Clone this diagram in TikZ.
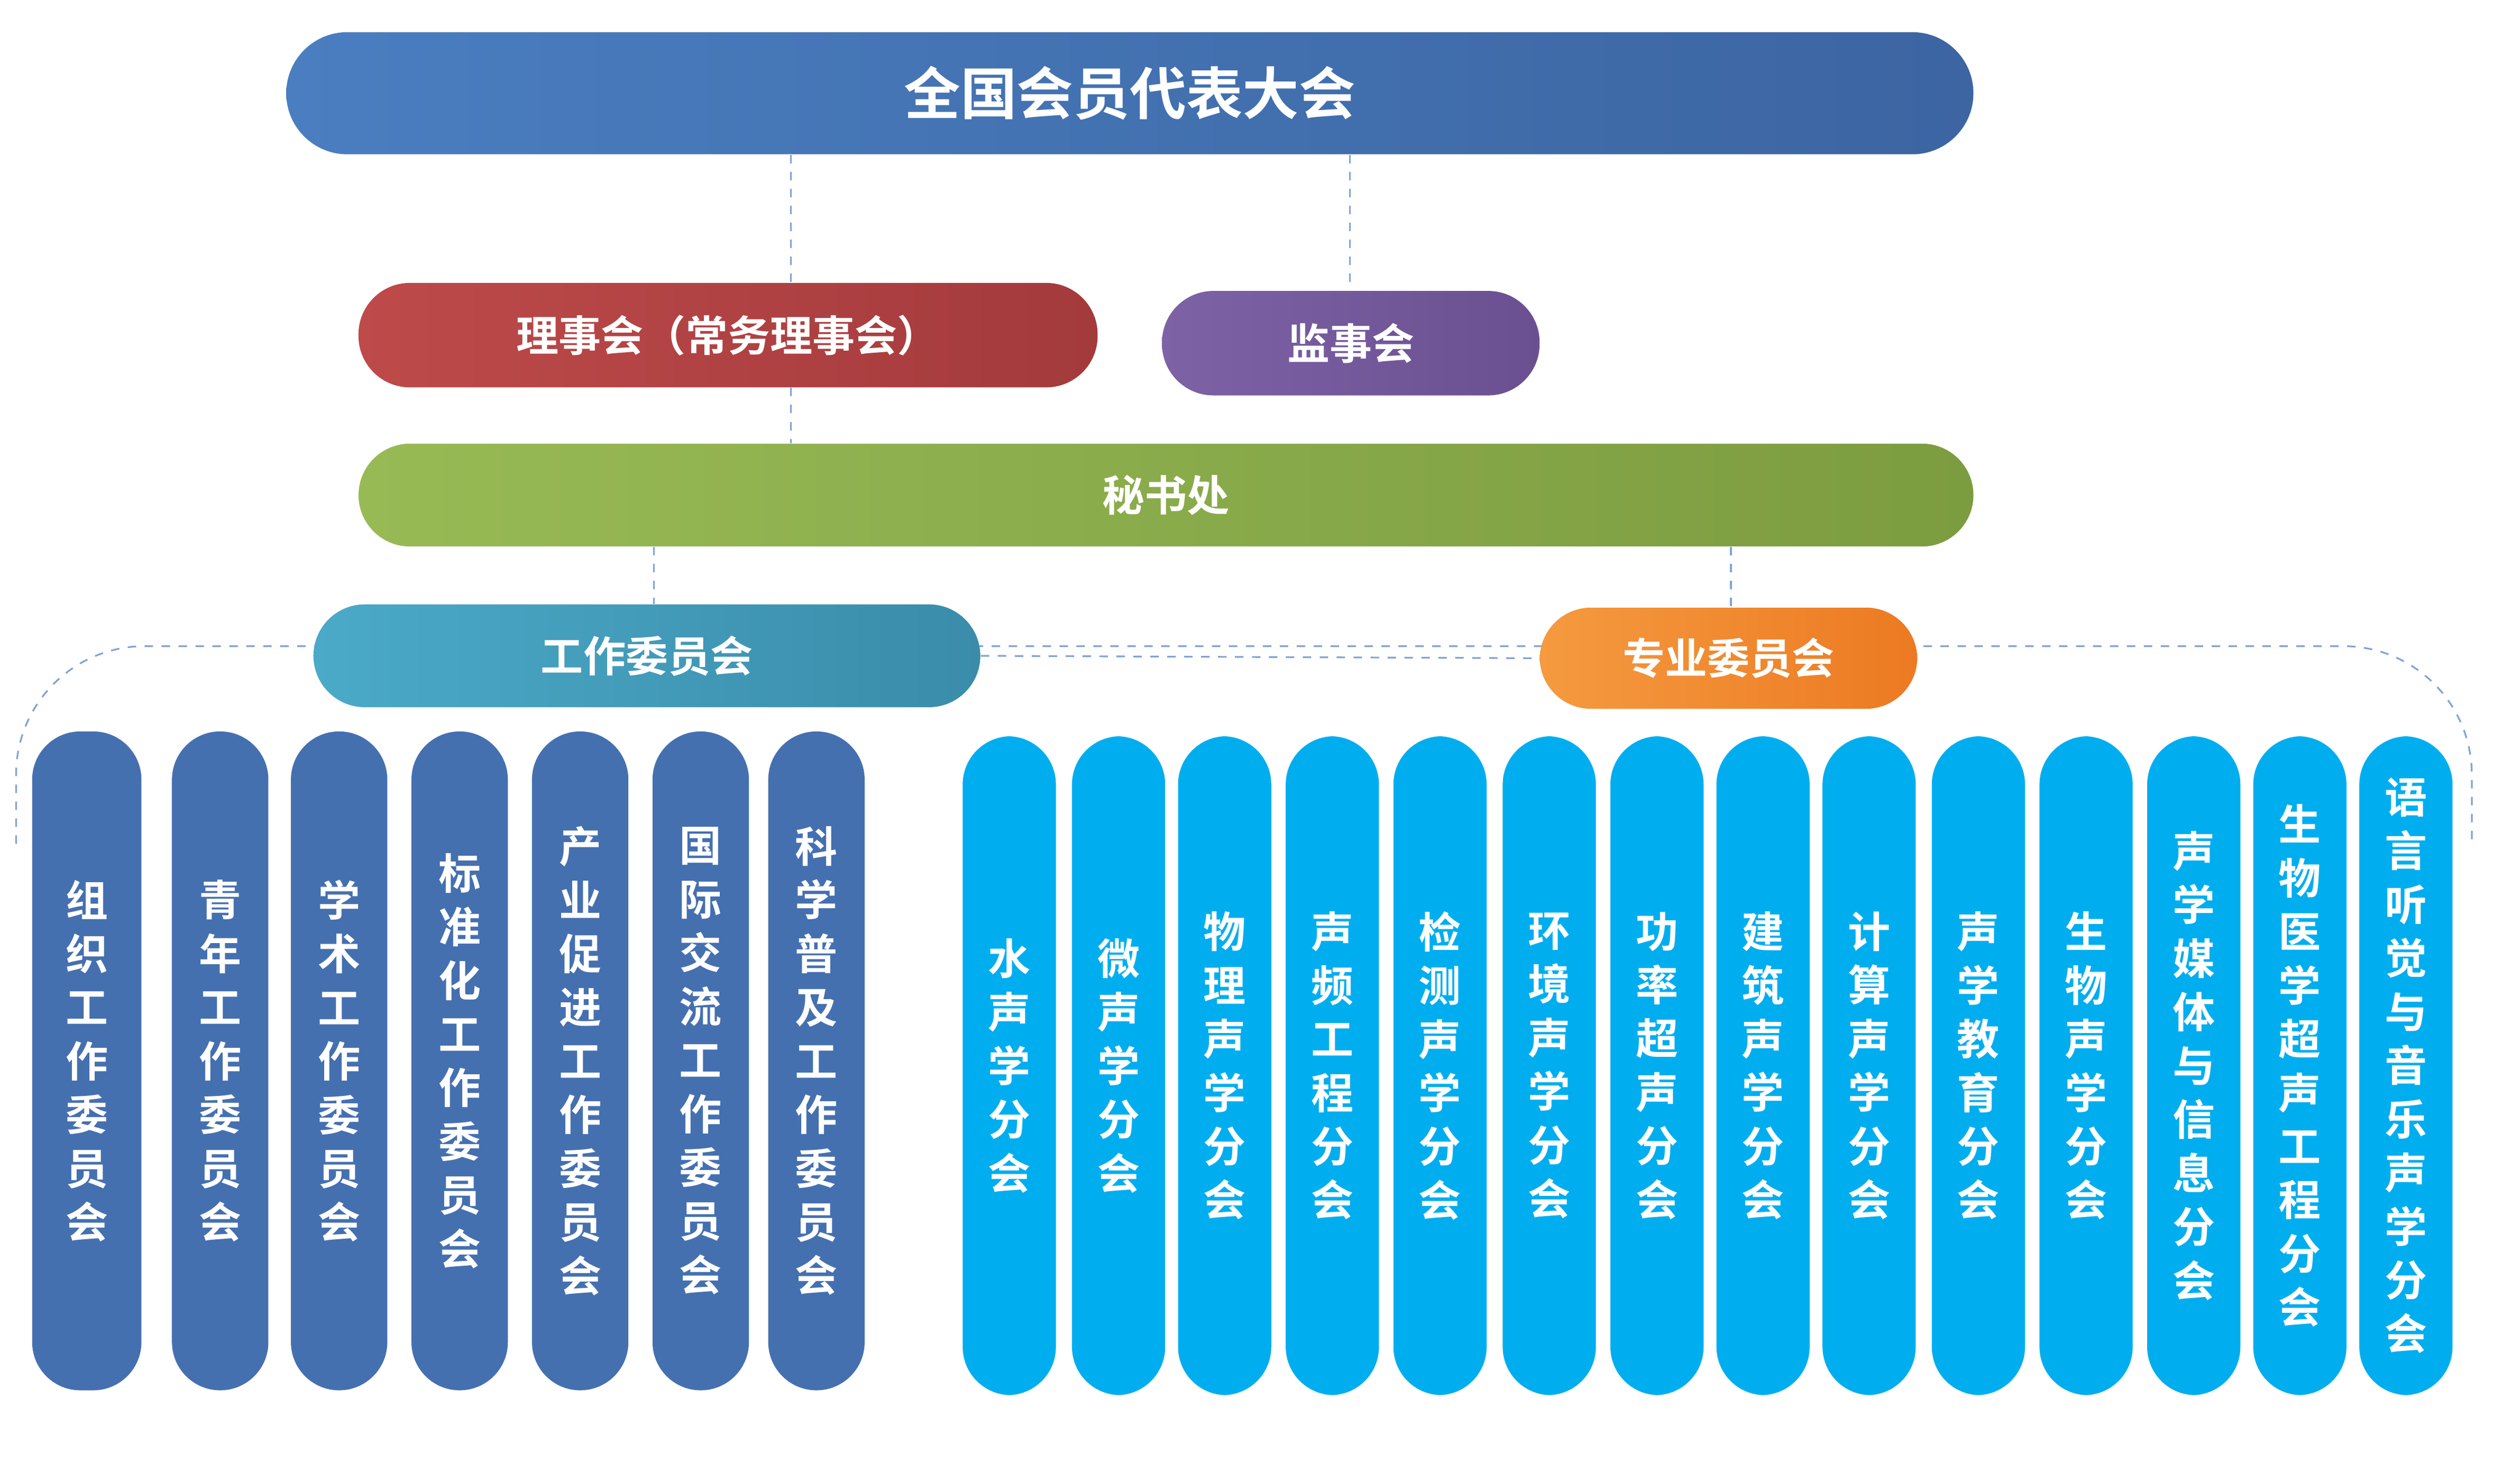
\documentclass[tikz,border=0pt]{standalone}
\usepackage{fontspec}
\setmainfont{Noto Sans CJK SC}[BoldFont={Noto Sans CJK SC Bold}]
\definecolor{topblue}{HTML}{4A7EC0}
\definecolor{topblueR}{HTML}{3C65A2}
\definecolor{lired}{HTML}{BE4A4A}
\definecolor{liredR}{HTML}{A33A3C}
\definecolor{jspurple}{HTML}{7D62A6}
\definecolor{jspurpleR}{HTML}{6A5090}
\definecolor{msgreen}{HTML}{98BA55}
\definecolor{msgreenR}{HTML}{7C9C40}
\definecolor{gzteal}{HTML}{4AAAC8}
\definecolor{gztealR}{HTML}{3A8CAA}
\definecolor{zyorange}{HTML}{F59A40}
\definecolor{zyorangeR}{HTML}{EC7A22}
\definecolor{colblue}{HTML}{4570B0}
\definecolor{colcyan}{HTML}{00AEEF}
\definecolor{dashblue}{HTML}{7FA3D6}
\tikzset{
  bar/.style={draw=none,text=white,font=\bfseries\fontsize{15}{18}\selectfont,
    rounded corners=0.64cm,minimum height=1.28cm},
  wcol/.style={draw=none,fill=colblue,text=white,rounded corners=0.6cm,
    minimum width=1.2cm,minimum height=8.2cm,align=center,
    font=\bfseries\fontsize{15}{19}\selectfont},
  pcol/.style={wcol,fill=colcyan,minimum width=1.16cm},
  link/.style={dashed,dashblue,line width=0.6pt}
}
\begin{document}
\begin{tikzpicture}[x=0.02cm,y=-0.02cm]
\useasboundingbox (0,0) rectangle (1568,910);

%%%%%%%%%%%%%%%%%%%%%%%%%%%%%%%%%%%%%%

\draw[link,rounded corners=1.6cm] (10,525) -- (10,402) -- (1538,402) -- (1538,525);

\node[bar,left color=topblue,right color=topblueR,minimum width=21cm,minimum height=1.52cm,
  rounded corners=0.76cm,font=\bfseries\fontsize{20}{24}\selectfont] (dh) at (703,58) {全国会员代表大会};
\node[bar,left color=lired,right color=liredR,minimum width=9.2cm,minimum height=1.3cm] (lsh) at (453,208.5) {理事会（常务理事会）};
\node[bar,left color=jspurple,right color=jspurpleR,minimum width=4.7cm,minimum height=1.3cm] (jsh) at (840.5,213.5) {监事会};
\node[bar,left color=msgreen,right color=msgreenR,minimum width=20.1cm] (msc) at (725.5,308) {秘书处};
\node[bar,left color=gzteal,right color=gztealR,minimum width=8.3cm] (gzw) at (402.5,408) {工作委员会};
\node[bar,left color=zyorange,right color=zyorangeR,minimum width=4.7cm,minimum height=1.26cm] (zyw) at (1075.5,409.5) {专业委员会};

\coordinate (c1) at (492,0);
\coordinate (c2) at (840,0);
\coordinate (c3) at (407,0);
\coordinate (c4) at (1077,0);
\draw[link] (c1 |- dh.south) -- (c1 |- lsh.north);
\draw[link] (c1 |- lsh.south) -- (c1 |- msc.north);
\draw[link] (c2 |- dh.south) -- (c2 |- jsh.north);
\draw[link] (c3 |- msc.south) -- (c3 |- gzw.north);
\draw[link] (c4 |- msc.south) -- (c4 |- zyw.north);
\draw[link] (gzw.east) -- (zyw.west);

%%%%%%%%%%%%%%%%%%%%%%%%%%%%%%%%%%%%%%

\node[wcol,minimum width=1.36cm] (w1) at (54,660) {组\\织\\工\\作\\委\\员\\会};
\foreach \x/\t [count=\i from 2] in {137/{青\\年\\工\\作\\委\\员\\会},
    211/{学\\术\\工\\作\\委\\员\\会},
    286/{标\\准\\化\\工\\作\\委\\员\\会},
    361/{产\\业\\促\\进\\工\\作\\委\\员\\会},
    436/{国\\际\\交\\流\\工\\作\\委\\员\\会},
    508/{科\\学\\普\\及\\工\\作\\委\\员\\会}}
  \node[wcol] (w\i) at (\x,660) {\t};

%%%%%%%%%%%%%%%%%%%%%%%%%%%%%%%%%%%%%%

\foreach \x/\t [count=\i] in {628/{水\\声\\学\\分\\会},
    696/{微\\声\\学\\分\\会},
    762/{物\\理\\声\\学\\分\\会},
    829/{声\\频\\工\\程\\分\\会},
    896/{检\\测\\声\\学\\分\\会},
    964/{环\\境\\声\\学\\分\\会},
    1031/{功\\率\\超\\声\\分\\会},
    1097/{建\\筑\\声\\学\\分\\会},
    1163/{计\\算\\声\\学\\分\\会},
    1231/{声\\学\\教\\育\\分\\会},
    1298/{生\\物\\声\\学\\分\\会},
    1365/{声\\学\\媒\\体\\与\\信\\息\\分\\会},
    1431/{生\\物\\医\\学\\超\\声\\工\\程\\分\\会},
    1497/{语\\言\\听\\觉\\与\\音\\乐\\声\\学\\分\\会}}
  \node[pcol] (p\i) at (\x,663) {\t};

\end{tikzpicture}
\end{document}
